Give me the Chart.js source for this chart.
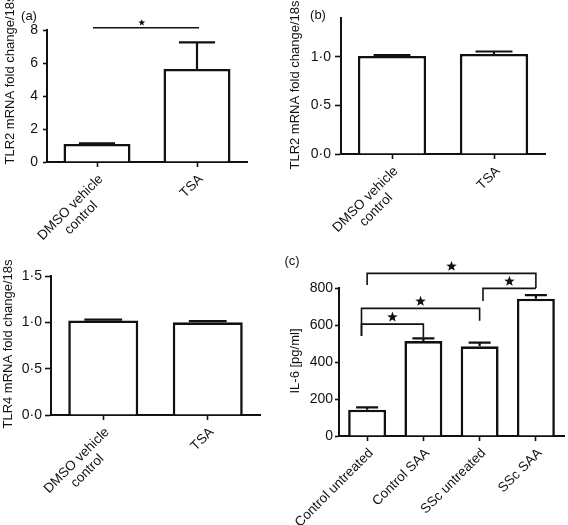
<!DOCTYPE html>
<html><head><meta charset="utf-8">
<script src="https://cdn.jsdelivr.net/npm/chart.js@4.4.0/dist/chart.umd.min.js"></script>
<style>
html,body{margin:0;padding:0;background:#fff;}
#wrap{position:relative;width:568px;height:525px;overflow:hidden;}
canvas{position:absolute;}
</style></head><body>
<div id="wrap">
<canvas id="ca" width="284" height="250" style="left:0;top:0"></canvas>
<canvas id="cb" width="284" height="250" style="left:284px;top:0"></canvas>
<canvas id="cc" width="284" height="275" style="left:0;top:250px"></canvas>
<canvas id="cd" width="284" height="275" style="left:284px;top:250px"></canvas>
</div>
<script>
// ---- data ----
const tlrCategories = [["DMSO vehicle", "control"], ["TSA"]];
const il6Categories = [["Control untreated"], ["Control SAA"], ["SSc untreated"], ["SSc SAA"]];
const tlr2aValues = [1.09, 5.64];
const tlr2aErrors = [0.04, 1.61];
const tlr2bValues = [1.01, 1.03];
const tlr2bErrors = [0.008, 0.025];
const tlr4Values = [1.02, 1.00];
const tlr4Errors = [0.01, 0.012];
const il6Values = [142, 513, 485, 742];
const il6Errors = [13, 15, 20, 20];
const tlr2aTicks = [0, 2, 4, 6, 8];
const tlr2bTicks = [0, 0.5, 1.0];
const tlr4Ticks = [0, 0.5, 1.0, 1.5];
const il6Ticks = [0, 200, 400, 600, 800];
const tlr2aBrackets = [{from: -0.04, to: 1.02, y: 8.14, dropL: 8.14, dropR: 8.14, star: 0.46}];
const il6Brackets = [
  {from: 0, to: 3, y: 879, dropL: 816, dropR: 800, star: 0.5},
  {from: 2.06, to: 3, y: 798, dropL: 730, dropR: 798, star: 0.5},
  {from: -0.1, to: 2, y: 690, dropL: 540, dropR: 623, star: 0.5},
  {from: -0.1, to: 1, y: 605, dropL: 540, dropR: 533, star: 0.5}
];

const FONT = '"Liberation Sans", Arial, sans-serif';
const INK = '#111111';

function star(ctx, cx, cy, r) {
  ctx.beginPath();
  for (let k = 0; k < 10; k++) {
    const rr = k % 2 === 0 ? r : r * 0.42;
    const a = -Math.PI / 2 + k * Math.PI / 5;
    const px = cx + rr * Math.cos(a), py = cy + rr * Math.sin(a);
    if (k === 0) ctx.moveTo(px, py); else ctx.lineTo(px, py);
  }
  ctx.closePath();
  ctx.fill();
}

function makeDecor(cfg) {
  return {
    id: 'decor',
    afterDatasetsDraw(chart) {
      const ctx = chart.ctx, xs = chart.scales.x, ys = chart.scales.y;
      const meta = chart.getDatasetMeta(0);
      ctx.save();
      ctx.strokeStyle = INK; ctx.lineWidth = 2.2; ctx.lineCap = 'butt';
      meta.data.forEach((bar, i) => {
        const p = bar.getProps(['x', 'y', 'width'], true);
        const ey = ys.getPixelForValue(cfg.values[i] + cfg.errors[i]);
        const half = p.width * cfg.capFrac / 2;
        ctx.beginPath();
        ctx.moveTo(p.x, p.y); ctx.lineTo(p.x, ey);
        ctx.moveTo(p.x - half, ey); ctx.lineTo(p.x + half, ey);
        ctx.stroke();
      });
      // significance brackets
      ctx.lineWidth = 1.6; ctx.fillStyle = INK;
      (cfg.brackets || []).forEach(b => {
        const x1 = xs.getPixelForValue(b.from), x2 = xs.getPixelForValue(b.to);
        const y = ys.getPixelForValue(b.y);
        ctx.beginPath();
        ctx.moveTo(x1, ys.getPixelForValue(b.dropL)); ctx.lineTo(x1, y);
        ctx.lineTo(x2, y); ctx.lineTo(x2, ys.getPixelForValue(b.dropR));
        ctx.stroke();
        star(ctx, x1 + (x2 - x1) * b.star, y - cfg.starGap, cfg.starR);
      });
      ctx.restore();
    },
    afterDraw(chart) {
      const ctx = chart.ctx, xs = chart.scales.x;
      ctx.save();
      ctx.fillStyle = INK;
      // x labels, rotated 45 degrees, lines centred
      ctx.font = cfg.xFont + 'px ' + FONT;
      cfg.labels.forEach((lab, i) => {
        const lines = Array.isArray(lab) ? lab : [lab];
        const W = Math.max(...lines.map(l => ctx.measureText(l).width));
        const tx = xs.getPixelForValue(i) + cfg.xdx, ty = chart.chartArea.bottom + cfg.xdy;
        ctx.save();
        ctx.translate(tx, ty); ctx.rotate(-Math.PI / 4);
        ctx.textAlign = 'center'; ctx.textBaseline = 'middle';
        lines.forEach((l, k) => ctx.fillText(l, -W / 2, k * cfg.lh));
        ctx.restore();
      });
      // y title
      ctx.font = cfg.titleFont + 'px ' + FONT;
      ctx.save();
      ctx.translate(cfg.titlePos[0], cfg.titlePos[1]); ctx.rotate(-Math.PI / 2);
      ctx.textAlign = 'center'; ctx.textBaseline = 'middle';
      ctx.fillText(cfg.title, 0, 0);
      ctx.restore();
      // panel letter
      if (cfg.panel) {
        ctx.textAlign = 'center'; ctx.textBaseline = 'middle';
        ctx.font = '13px ' + FONT;
        ctx.fillText(cfg.panel, cfg.panelPos[0], cfg.panelPos[1]);
      }
      ctx.restore();
    }
  };
}

function makePanel(id, cfg) {
  new Chart(document.getElementById(id), {
    type: 'bar',
    data: {
      labels: cfg.labels,
      datasets: [{
        data: cfg.values,
        backgroundColor: '#ffffff',
        borderColor: INK,
        borderWidth: 2.6,
        borderSkipped: 'start',
        barPercentage: cfg.barPct,
        categoryPercentage: 1
      }]
    },
    options: {
      responsive: false,
      animation: false,
      events: [],
      layout: {padding: cfg.pad},
      plugins: {legend: {display: false}, tooltip: {enabled: false}, title: {display: false}},
      scales: {
        x: {
          offset: true,
          grid: {display: true, offset: false, drawOnChartArea: false, drawTicks: true, tickLength: 5, tickWidth: 1.6, tickColor: INK},
          border: {display: true, color: INK, width: 2},
          ticks: {display: false},
          afterFit: s => { s.height = cfg.xHeight; }
        },
        y: {
          min: 0, max: cfg.max,
          afterBuildTicks: s => { s.ticks = cfg.ticks.map(v => ({value: v})); },
          grid: {display: true, drawOnChartArea: false, drawTicks: true, tickLength: cfg.yTickLen, tickWidth: 1.6, tickColor: INK},
          border: {display: true, color: INK, width: 2},
          ticks: {
            color: INK, padding: cfg.yTickPad,
            font: {family: FONT, size: 14},
            callback: cfg.fmt
          },
          afterFit: s => { s.width = cfg.yWidth; }
        }
      }
    },
    plugins: [makeDecor(cfg)]
  });
}

const dotFmt = v => Number(v).toFixed(1).replace('.', '·');
const intFmt = v => String(v);

makePanel('ca', {
  labels: tlrCategories, values: tlr2aValues, errors: tlr2aErrors, ticks: tlr2aTicks, max: 8,
  pad: {left: 0, right: 37, top: 30, bottom: 48}, yWidth: 47, xHeight: 40,
  yTickLen: 4, yTickPad: 5, fmt: intFmt, barPct: 0.67, capFrac: 0.54,
  brackets: tlr2aBrackets, starR: 3.6, starGap: 5,
  xFont: 13.5, xdx: 4, xdy: 15, lh: 15,
  title: 'TLR2 mRNA fold change/18s', titleFont: 13, titlePos: [10, 80],
  panel: '(a)', panelPos: [29, 16]
});
makePanel('cb', {
  labels: tlrCategories, values: tlr2bValues, errors: tlr2bErrors, ticks: tlr2bTicks, max: 1.4,
  pad: {left: 0, right: 23, top: 18, bottom: 56}, yWidth: 57, xHeight: 40,
  yTickLen: 6, yTickPad: 4, fmt: dotFmt, barPct: 0.67, capFrac: 0.54,
  brackets: [], starR: 5, starGap: 7,
  xFont: 13.5, xdx: 4, xdy: 15, lh: 15,
  title: 'TLR2 mRNA fold change/18s', titleFont: 13, titlePos: [11, 85],
  panel: '(b)', panelPos: [34, 15]
});
makePanel('cc', {
  labels: tlrCategories, values: tlr4Values, errors: tlr4Errors, ticks: tlr4Ticks, max: 1.5,
  pad: {left: 0, right: 24, top: 26, bottom: 70}, yWidth: 51, xHeight: 40,
  yTickLen: 6, yTickPad: 3, fmt: dotFmt, barPct: 0.67, capFrac: 0.54,
  brackets: [], starR: 5, starGap: 7,
  xFont: 13.5, xdx: 4, xdy: 15, lh: 15,
  title: 'TLR4 mRNA fold change/18s', titleFont: 13, titlePos: [8, 94],
  panel: null
});
makePanel('cd', {
  labels: il6Categories, values: il6Values, errors: il6Errors, ticks: il6Ticks, max: 800,
  pad: {left: 0, right: 4, top: 38, bottom: 49}, yWidth: 55, xHeight: 40,
  yTickLen: 4, yTickPad: 2, fmt: intFmt, barPct: 0.675, capFrac: 0.58,
  brackets: il6Brackets, starR: 5.5, starGap: 7,
  xFont: 13.5, xdx: 4, xdy: 15, lh: 15,
  title: 'IL-6 [pg/ml]', titleFont: 13, titlePos: [11, 111],
  panel: '(c)', panelPos: [8, 11]
});
</script>
</body></html>
